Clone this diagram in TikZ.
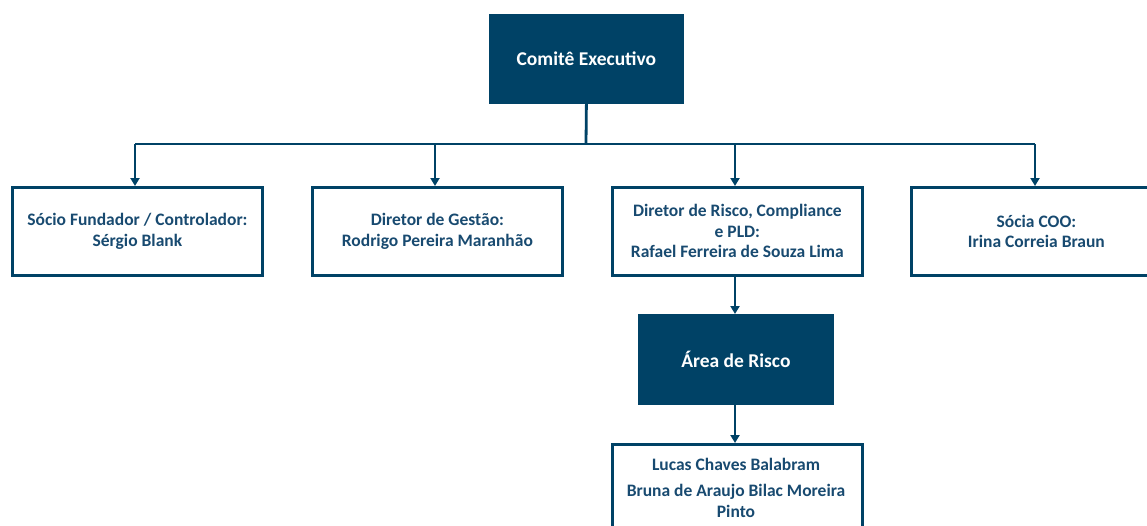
\documentclass[tikz,border=0pt]{standalone}
\usepackage{fontspec}
\setmainfont{Carlito}
\usetikzlibrary{arrows.meta}
\definecolor{navy}{RGB}{0,66,102}
\definecolor{txtblue}{RGB}{24,74,112}
\begin{document}
\begin{tikzpicture}[x=1pt,y=-1pt,
  filledbox/.style={draw=navy,fill=navy,line width=0.8pt,text=white,font=\bfseries\fontsize{19.5}{22}\selectfont,align=center,anchor=north west,inner sep=0pt},
  whitebox/.style={draw=navy,line width=2.8pt,text=txtblue,font=\bfseries\fontsize{17.5}{20.5}\selectfont,align=center,anchor=north west,inner sep=0pt},
  conn/.style={draw=navy,line width=2.8pt},
  arr/.style={conn,-{Triangle[length=8pt,width=9pt]}}]
\useasboundingbox (0,0) rectangle (1147,525);
\clip (0,0) rectangle (1147,525);
\node[filledbox,minimum width=194pt,minimum height=89pt] (top) at (489,14) {Comitê Executivo};
\node[whitebox,minimum width=250pt,minimum height=88pt] (b1) at (11,186) {Sócio Fundador / Controlador:\\Sérgio Blank};
\node[whitebox,minimum width=250pt,minimum height=88pt] (b2) at (311,186) {Diretor de Gestão:\\Rodrigo Pereira Maranhão};
\node[whitebox,minimum width=250pt,minimum height=88pt] (b3) at (611,186) {Diretor de Risco, Compliance\\e PLD:\\Rafael Ferreira de Souza Lima};
\node[whitebox,minimum width=250pt,minimum height=88pt] (b4) at (910,186) {Sócia COO:\\Irina Correia Braun};
\node[filledbox,minimum width=195pt,minimum height=90pt] (area) at (638,314) {Área de Risco};
\node[whitebox,minimum width=250pt,minimum height=100pt,anchor=north west] (b5) at (611,443) {};
\node[text=txtblue,font=\bfseries\fontsize{17.5}{21}\selectfont,align=center,anchor=north,inner sep=0pt] (b5t) at (736,458) {Lucas Chaves Balabram\\[5pt]Bruna de Araujo Bilac Moreira\\Pinto};
\coordinate (h) at (586,144);
\coordinate (hl) at (135,144);
\coordinate (hr) at (1035,144);
\draw[conn] (top.south) -- (h);
\draw[conn] (hl) -- (hr);
\draw[arr] (hl) -- (b1.north -| hl);
\draw[arr] (435,144) -- (b2.north -| 435,0);
\draw[arr] (735,144) -- (b3.north -| 735,0);
\draw[arr] (hr) -- (b4.north -| hr);
\draw[arr] (b3.south -| 735,0) -- (area.north -| 735,0);
\draw[arr] (area.south -| 735,0) -- (b5.north -| 735,0);
\end{tikzpicture}
\end{document}
